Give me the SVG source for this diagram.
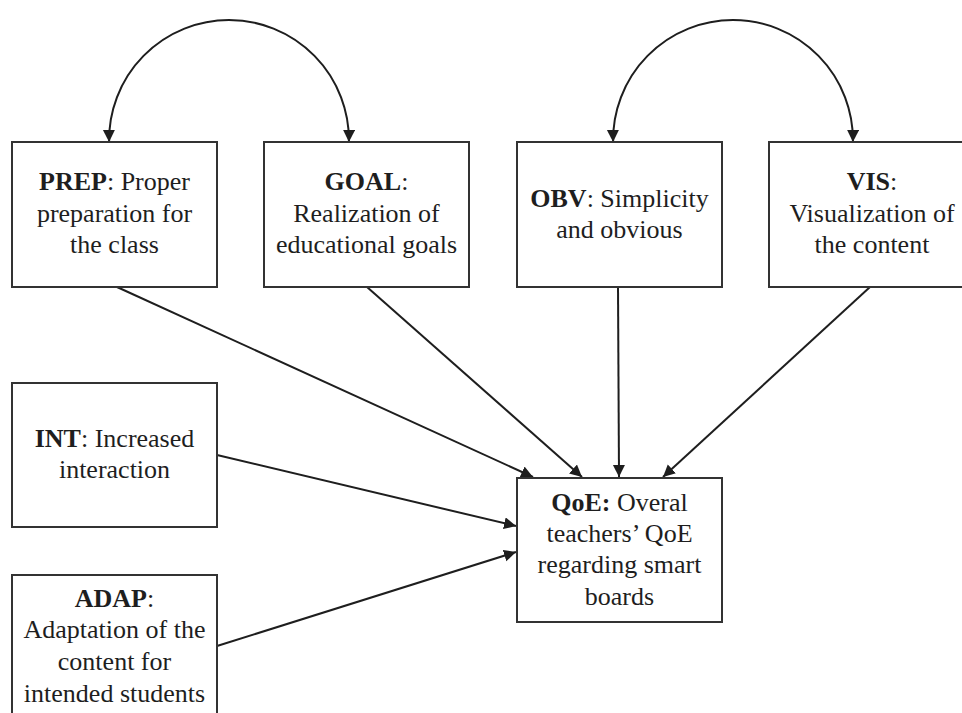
<svg xmlns="http://www.w3.org/2000/svg" width="962" height="713" viewBox="0 0 962 713">
<defs>
<marker id="ah" markerUnits="userSpaceOnUse" markerWidth="14" markerHeight="14" refX="12" refY="6" orient="auto">
<path d="M0,0 L12,6 L0,12 z" fill="#1e1e1e"/>
</marker>
<style>
.box{fill:#fff;stroke:#333;stroke-width:2}
.t{font-family:"Liberation Serif","Times New Roman",serif;font-size:26px;fill:#1e1e1e;text-anchor:middle}
.b{font-weight:bold}
.c{fill:none;stroke:#1e1e1e;stroke-width:2;marker-end:url(#ah)}
</style>
</defs>
<rect width="962" height="713" fill="#fff"/>
<g id="connectors">
<path class="c" d="M229,20 A120,120 0 0 0 109.1,142"/>
<path class="c" d="M229,20 A120,120 0 0 1 348.9,142"/>
<path class="c" d="M733,20 A120,120 0 0 0 613.1,142"/>
<path class="c" d="M733,20 A120,120 0 0 1 852.9,142"/>
<line class="c" x1="117" y1="287" x2="533" y2="477"/>
<line class="c" x1="367" y1="287" x2="582" y2="477"/>
<line class="c" x1="618" y1="287" x2="619" y2="477"/>
<line class="c" x1="870" y1="287" x2="663" y2="477"/>
<line class="c" x1="217" y1="455" x2="516" y2="526"/>
<line class="c" x1="217" y1="646" x2="516" y2="552"/>
</g>
<g id="PREP">
<rect class="box" x="12" y="142" width="205" height="145"/>
<text class="t" x="114.5" y="190"><tspan class="b">PREP</tspan>: Proper</text>
<text class="t" x="114.5" y="222">preparation for</text>
<text class="t" x="114.5" y="253">the class</text>
</g>
<g id="GOAL">
<rect class="box" x="264" y="142" width="205" height="145"/>
<text class="t" x="366.5" y="190"><tspan class="b">GOAL</tspan>:</text>
<text class="t" x="366.5" y="222">Realization of</text>
<text class="t" x="366.5" y="253">educational goals</text>
</g>
<g id="OBV">
<rect class="box" x="517" y="142" width="205" height="145"/>
<text class="t" x="619.5" y="207"><tspan class="b">OBV</tspan>: Simplicity</text>
<text class="t" x="619.5" y="238">and obvious</text>
</g>
<g id="VIS">
<rect class="box" x="769" y="142" width="205" height="145"/>
<text class="t" x="872" y="190"><tspan class="b">VIS</tspan>:</text>
<text class="t" x="872" y="222">Visualization of</text>
<text class="t" x="872" y="253">the content</text>
</g>
<g id="INT">
<rect class="box" x="12" y="383" width="205" height="144"/>
<text class="t" x="114.5" y="447"><tspan class="b">INT</tspan>: Increased</text>
<text class="t" x="114.5" y="478">interaction</text>
</g>
<g id="ADAP">
<rect class="box" x="12" y="575" width="205" height="150"/>
<text class="t" x="114.5" y="607"><tspan class="b">ADAP</tspan>:</text>
<text class="t" x="114.5" y="638">Adaptation of the</text>
<text class="t" x="114.5" y="670">content for</text>
<text class="t" x="114.5" y="702">intended students</text>
</g>
<g id="QoE">
<rect class="box" x="517" y="478" width="205" height="144"/>
<text class="t" x="619.5" y="511"><tspan class="b">QoE:</tspan> Overal</text>
<text class="t" x="619.5" y="542">teachers’ QoE</text>
<text class="t" x="619.5" y="573">regarding smart</text>
<text class="t" x="619.5" y="605">boards</text>
</g>
</svg>
